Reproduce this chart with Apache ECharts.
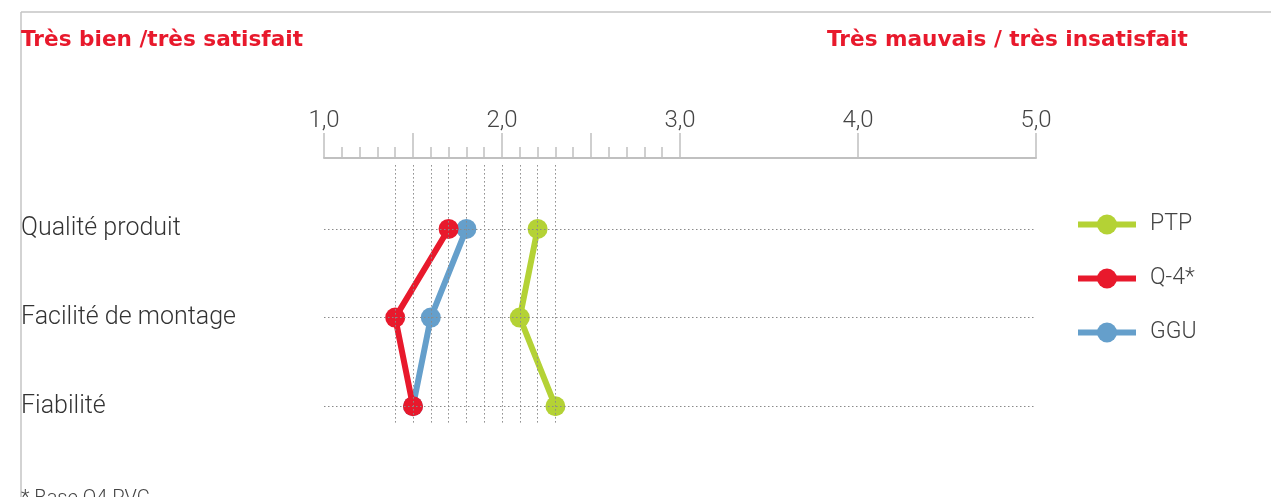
<!DOCTYPE html>
<html>
<head>
<meta charset="utf-8">
<script src="https://cdn.jsdelivr.net/npm/echarts@6/dist/echarts.min.js"></script>
<style>
  html, body { margin: 0; padding: 0; background: #fff; }
  #main { width: 1271px; height: 497px; }
</style>
</head>
<body>
<div id="main"></div>
<script>
// données
let categories = ['Qualité produit', 'Facilité de montage', 'Fiabilité'];
let ptp = [2.2, 2.1, 2.3];
let q4 = [1.7, 1.4, 1.5];
let ggu = [1.8, 1.6, 1.5];
let majorTicks = [1, 1.5, 2, 2.5, 3, 4, 5];
let minorTicks = [1.1, 1.2, 1.3, 1.4, 1.6, 1.7, 1.8, 1.9, 2.1, 2.2, 2.3, 2.4, 2.6, 2.7, 2.8, 2.9];
let guideLines = [1.4, 1.5, 1.6, 1.7, 1.8, 1.9, 2.0, 2.1, 2.2, 2.3];
let tickLabels = [1, 2, 3, 4, 5];

let chartDom = document.getElementById('main');
let myChart = echarts.init(chartDom);

const font = 'Roboto, "Liberation Sans", sans-serif';
const titleFont = '"DejaVu Sans", "Liberation Sans", sans-serif';

function toPoints(arr) {
  return arr.map((v, i) => [v, i]);
}

// lignes pointillées
let hLines = categories.map((c, i) => [{ coord: [1, i] }, { coord: [5, i] }]);
let vLines = guideLines.map(x => [{ coord: [x, -0.72] }, { coord: [x, 2.2] }]);

let option = {
  animation: false,
  title: [
    {
      text: 'Très bien /très satisfait',
      left: 21, top: 29, padding: 0,
      textStyle: { color: '#e8192c', fontSize: 21.6, fontWeight: 'bold', fontFamily: titleFont }
    },
    {
      text: 'Très mauvais / très insatisfait',
      left: 827, top: 29, padding: 0,
      textStyle: { color: '#e8192c', fontSize: 21.6, fontWeight: 'bold', fontFamily: titleFont }
    },
    {
      text: '* Base Q4 PVC',
      left: 21, top: 489, padding: 0,
      textStyle: { color: '#444', fontSize: 20, fontWeight: 300, fontFamily: font }
    }
  ],
  graphic: [
    { type: 'line', shape: { x1: 21, y1: 12, x2: 1271, y2: 12 }, style: { stroke: '#c4c4c4', lineWidth: 1.5 }, silent: true },
    { type: 'line', shape: { x1: 21, y1: 12, x2: 21, y2: 497 }, style: { stroke: '#c4c4c4', lineWidth: 1.5 }, silent: true }
  ],
  legend: {
    data: ['PTP', 'Q-4*', 'GGU'],
    orient: 'vertical',
    left: 1070,
    top: 208,
    itemWidth: 58,
    itemHeight: 25,
    itemGap: 31,
    lineStyle: { width: 6 },
    textStyle: { color: '#444', fontSize: 23, fontFamily: font, fontWeight: 300, padding: [0, 0, 0, 9] }
  },
  grid: {
    left: 324,
    right: 235,
    top: 158,
    bottom: 73
  },
  xAxis: [
    {
      type: 'value',
      position: 'top',
      min: 1,
      max: 5,
      interval: 1,
      axisLine: { show: true, onZero: false, lineStyle: { color: '#c0c0c0', width: 2 } },
      axisTick: { show: true, customValues: majorTicks, length: 25, lineStyle: { color: '#c0c0c0', width: 1.5 } },
      axisLabel: {
        customValues: tickLabels,
        margin: 25,
        color: '#444',
        fontSize: 24,
        fontFamily: font,
        fontWeight: 300,
        formatter: v => v.toFixed(1).replace('.', ',')
      },
      splitLine: { show: false }
    },
    {
      type: 'value',
      position: 'top',
      min: 1,
      max: 5,
      axisLine: { show: false, onZero: false },
      axisTick: { show: true, customValues: minorTicks, length: 11, lineStyle: { color: '#c0c0c0', width: 1.5 } },
      axisLabel: { show: false },
      splitLine: { show: false }
    }
  ],
  yAxis: {
    type: 'value',
    inverse: true,
    min: -0.8,
    max: 2.2,
    axisLine: { show: false },
    axisTick: { show: false },
    splitLine: { show: false },
    axisLabel: {
      customValues: [0, 1, 2],
      formatter: v => categories[Math.round(v)],
      align: 'left',
      margin: 303,
      padding: [0, 0, 8, 0],
      color: '#333',
      fontSize: 25,
      fontFamily: font,
      fontWeight: 300
    }
  },
  series: [
    {
      name: 'guides',
      type: 'line',
      data: [],
      silent: true,
      z: 1,
      markLine: {
        silent: true,
        symbol: 'none',
        label: { show: false },
        lineStyle: { color: '#8a8a8a', width: 1, type: [1.5, 2.5] },
        data: hLines.concat(vLines)
      }
    },
    {
      name: 'GGU',
      type: 'line',
      data: toPoints(ggu),
      symbol: 'circle',
      symbolSize: 20,
      lineStyle: { width: 6 },
      itemStyle: { color: '#659fcb' },
      z: 3
    },
    {
      name: 'PTP',
      type: 'line',
      data: toPoints(ptp),
      symbol: 'circle',
      symbolSize: 20,
      lineStyle: { width: 6 },
      itemStyle: { color: '#b4d235' },
      z: 3
    },
    {
      name: 'Q-4*',
      type: 'line',
      data: toPoints(q4),
      symbol: 'circle',
      symbolSize: 20,
      lineStyle: { width: 6 },
      itemStyle: { color: '#e8192c' },
      z: 4
    }
  ]
};

option && myChart.setOption(option);
</script>
</body>
</html>
